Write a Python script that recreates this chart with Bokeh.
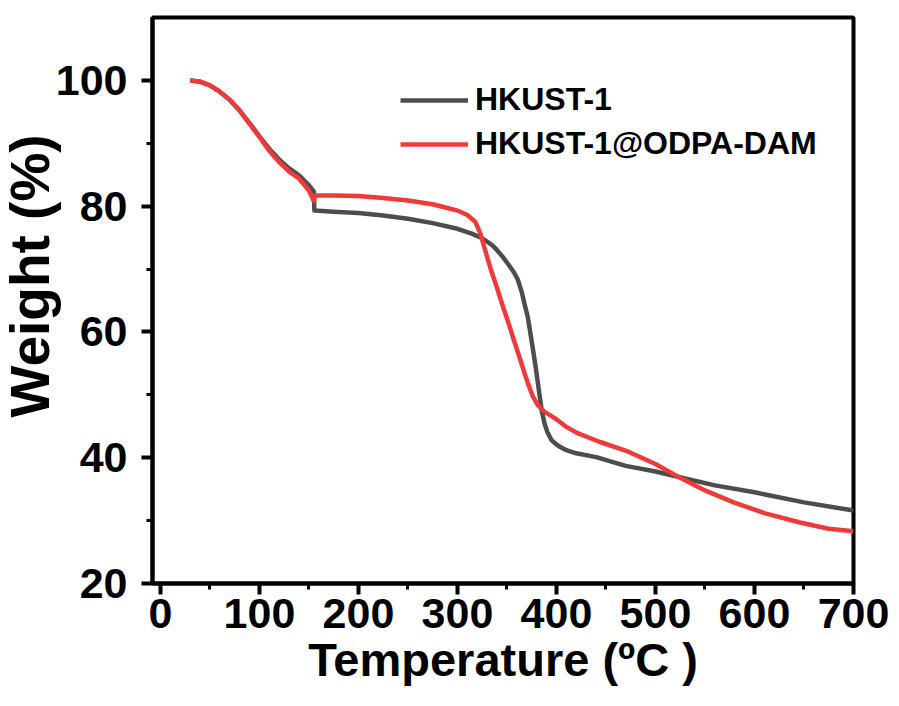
from bokeh.plotting import figure
from bokeh.models import Range1d, FixedTicker, Legend, LegendItem, Title
from bokeh.embed import file_html
from bokeh.resources import INLINE

# HKUST-1 (grey)
t_hkust = [30, 40, 50, 60, 70, 80, 90, 100, 110, 120, 130, 140, 150, 155, 155.5,
           175, 200, 225, 250, 275, 300, 315, 325, 335, 340, 346, 352, 357, 361, 365,
           368, 371, 375, 379, 382, 385, 388, 391, 395, 400, 404, 410, 420, 440, 470,
           500, 530, 560, 600, 650, 700]
w_hkust = [100.0, 99.8, 99.2, 98.2, 96.9, 95.2, 93.2, 91.1, 89.1, 87.4, 86.0, 84.9, 83.3, 82.3, 79.3,
           79.1, 78.9, 78.5, 78.0, 77.3, 76.4, 75.6, 74.9, 73.8, 73.0, 71.9, 70.6, 69.5, 68.3, 66.3,
           64.3, 62.4, 58.5, 54.4, 51.0, 47.6, 45.4, 44.0, 42.8, 42.1, 41.7, 41.2, 40.7, 40.1, 38.7,
           37.8, 36.7, 35.6, 34.5, 32.9, 31.6]

# HKUST-1@ODPA-DAM (red)
t_odpa = [30, 40, 50, 60, 70, 80, 90, 100, 110, 120, 130, 140, 150, 155, 155.5,
          175, 200, 225, 250, 275, 290, 300, 310, 318, 323, 328, 333, 340, 346, 352,
          357, 364, 371, 376, 381, 388, 395, 401, 410, 420, 444, 472, 500, 525, 550, 579,
          610, 646, 675, 700]
w_odpa = [100.0, 99.8, 99.2, 98.2, 96.9, 95.2, 93.1, 91.0, 88.8, 87.0, 85.5, 84.4, 82.5, 80.8, 81.7,
          81.7, 81.6, 81.3, 80.9, 80.3, 79.7, 79.3, 78.6, 77.5, 75.7, 73.0, 70.3, 67.0, 64.0, 61.2,
          58.7, 55.3, 51.9, 49.8, 48.4, 47.3, 46.6, 46.0, 44.9, 44.0, 42.5, 41.0, 39.0, 36.8, 34.8, 32.9,
          31.2, 29.7, 28.7, 28.3]

x_ticks = [0, 100, 200, 300, 400, 500, 600, 700]
x_minor = [50, 150, 250, 350, 450, 550, 650]
y_ticks = [20, 40, 60, 80, 100]
y_minor = [30, 50, 70, 90]

series_names = ["HKUST-1", "HKUST-1@ODPA-DAM"]
x_title = "Temperature (ºC )"
y_title = "Weight (%)"

FONT = "Liberation Sans"

p = figure(width=899, height=706, x_range=Range1d(-8, 700), y_range=Range1d(20, 110),
           output_backend="svg", toolbar_location=None,
           min_border_left=152, min_border_right=46, min_border_top=17, min_border_bottom=123)
p.background_fill_color = "white"
p.border_fill_color = "white"
p.grid.visible = False
p.outline_line_color = "black"
p.outline_line_width = 4

r1 = p.line(t_hkust, w_hkust, line_color="#4d4d4d", line_width=4.5, line_join="round")
r2 = p.line(t_odpa, w_odpa, line_color="#f03a3a", line_width=4.5, line_join="round")

for ax in (p.xaxis[0], p.yaxis[0]):
    ax.axis_line_width = 4
    ax.axis_line_color = "black"
    ax.major_tick_line_width = 4
    ax.minor_tick_line_width = 3
    ax.major_tick_in = 0
    ax.minor_tick_in = 0
    ax.major_tick_out = 11
    ax.minor_tick_out = 6
    ax.major_label_text_font = FONT
    ax.major_label_text_font_style = "bold"
    ax.major_label_text_font_size = "43px"
    ax.major_label_text_color = "black"

p.xaxis[0].ticker = FixedTicker(ticks=x_ticks, minor_ticks=x_minor)
p.yaxis[0].ticker = FixedTicker(ticks=y_ticks, minor_ticks=y_minor)
p.xaxis[0].major_label_standoff = 4
p.yaxis[0].major_label_standoff = 14

p.xaxis[0].axis_label = x_title
p.xaxis[0].axis_label_text_font = FONT
p.xaxis[0].axis_label_text_font_style = "bold"
p.xaxis[0].axis_label_text_font_size = "47px"
p.xaxis[0].axis_label_text_color = "black"
p.xaxis[0].axis_label_standoff = 2

ytitle = Title(text=y_title, align="left", offset=166, standoff=-16,
               text_font=FONT, text_font_style="bold", text_font_size="55px",
               text_color="black")
p.add_layout(ytitle, "left")

legend = Legend(items=[LegendItem(label=series_names[0], renderers=[r1]),
                       LegendItem(label=series_names[1], renderers=[r2])],
                location=(248, 421), glyph_width=68, glyph_height=32, label_height=32,
                label_standoff=7, spacing=7, padding=0, margin=0,
                border_line_color=None, background_fill_alpha=0,
                label_text_font=FONT, label_text_font_style="bold",
                label_text_font_size="32px", label_text_color="black")
p.add_layout(legend)

open("out.html", "w").write(file_html(p, INLINE))
